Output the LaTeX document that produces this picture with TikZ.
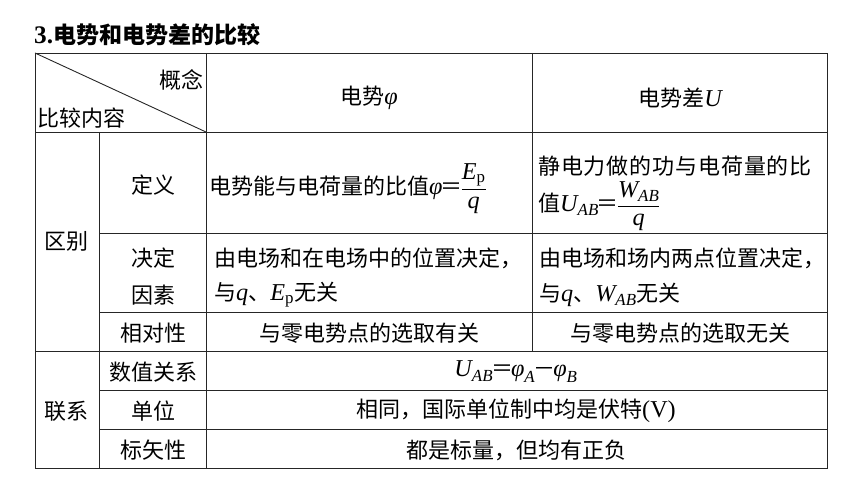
\documentclass[tikz,border=0pt]{standalone}
\usepackage{amsmath}
\usepackage{fontspec}
\setmainfont{Noto Sans CJK SC}
\newfontfamily\tms[Scale=1.1]{Liberation Serif}
\usetikzlibrary{positioning}
\newcommand\mv[1]{\text{\tms\itshape #1}}
\newcommand\rv[1]{\text{\tms #1}}
\newcommand\eq{\kern-2pt＝\kern-2pt}

\begin{document}
\begin{tikzpicture}[x=1pt, y=-1pt]
			\tikzset {txt/.style={inner sep=0pt, font=\fontsize{22}{26}\selectfont}, grid/.style={line width=0.9pt, black!85}, lft/.style={txt, anchor=west}}
			\useasboundingbox (0,0) rectangle (860,484);
			
			% title
			\node[anchor=west, inner sep=0pt, font=\fontsize{23}{27}\selectfont\bfseries] (title) at (34,35) {{\tms 3.}电势和电势差的比较};
			
			% table lines
			\draw[grid] (35,53) rectangle (827,468);
			\draw[grid] (35,53) -- (206,132);
			\draw[grid] (35,132) -- (827,132) (35,351) -- (827,351);
			\foreach \y in {233,312,390,429}
				\draw[grid] (99.5,\y) -- (827,\y);
			\draw[grid] (99.5,132) -- (99.5,468) (206,53) -- (206,468) (532,53) -- (532,351);
			
			% header
			\node[txt, anchor=east] (gn) at (204,80) {概念};
			\node[lft] (bjnr) at (37,118) {比较内容};
			\node[txt] (ds) at (369,98) {电势{\tms\itshape φ}};
			\node[txt] (dsc) at (680,98) {电势差{\tms\itshape U}};
			
			% left column
			\node[txt] (qb) at (67,241) {区别};
			\node[txt] (lx) at (67,411) {联系};
			\node[txt] (dy) at (153,185) {定义};
			\node[txt] (jd) at (153,258) {决定};
			\node[txt] (ys) at (153,295) {因素};
			\node[txt] (xdx) at (153,333) {相对性};
			\node[txt] (szgx) at (153,372) {数值关系};
			\node[txt] (dw) at (153,411) {单位};
			\node[txt] (bsx) at (153,450) {标矢性};
			
			% cells
			\node[lft] (dyA) at (209,189) {电势能与电荷量的比值$\mv{φ}$\eq$\dfrac{\mv{E}_{\rv{p}}}{\mv{q}}$};
			\node[lft] (dyB1) at (538,166) {\addfontfeature{LetterSpace=4}静电力做的功与电荷量的比};
			\node[lft] (dyB2) at (538,206) {值$\mv{U}_{\mv{AB}}$\eq$\dfrac{\mv{W}_{\mv{AB}}}{\mv{q}}$};
			\node[lft] (jdA1) at (214,258) {由电场和在电场中的位置决定，};
			\node[lft] (jdA2) at (214,295) {与$\mv{q}$、$\mv{E}_{\rv{p}}$无关};
			\node[lft] (jdB1) at (539,258) {由电场和场内两点位置决定，};
			\node[lft] (jdB2) at (539,295) {与$\mv{q}$、$\mv{W}_{\mv{AB}}$无关};
			\node[txt] (xdA) at (369,333) {与零电势点的选取有关};
			\node[txt] (xdB) at (680,333) {与零电势点的选取无关};
			\node[txt] (szC) at (516,372) {$\mv{U}_{\mv{AB}}$\eq$\mv{φ}_{\mv{A}}$\kern-2pt－\kern-2pt$\mv{φ}_{\mv{B}}$};
			\node[txt] (dwC) at (516,411) {相同，国际单位制中均是伏特{\tms (V)}};
			\node[txt] (bsC) at (516,450) {都是标量，但均有正负};
\end{tikzpicture}
\end{document}
